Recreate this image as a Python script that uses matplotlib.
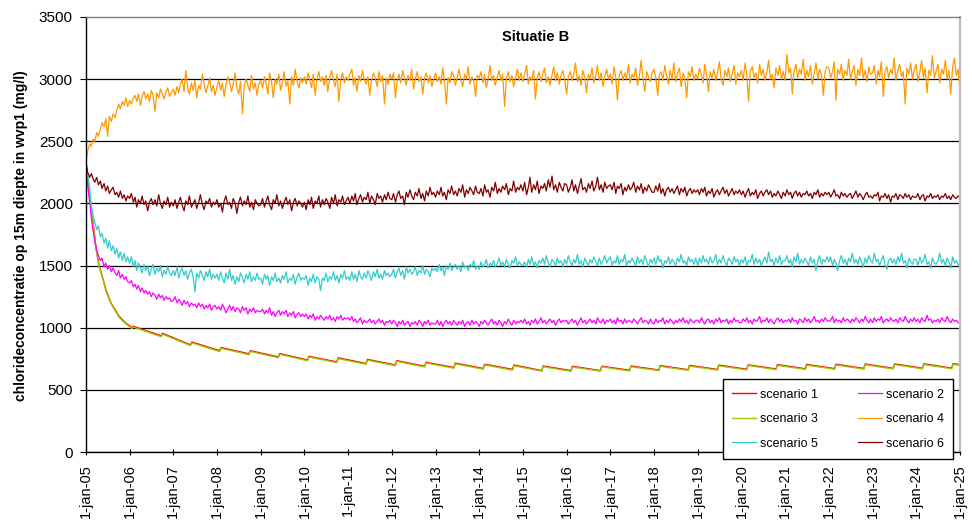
import matplotlib.pyplot as plt
import pandas as pd

plt.rcParams['font.family'] = ['Liberation Sans', 'DejaVu Sans']

START = pd.Timestamp('2005-01-01')
END = pd.Timestamp('2025-01-01')
HALF_MONTHS = pd.date_range(START, END, freq='SMS')
YEARS = list(range(2005, 2026))
TICK_LABELS = [f'1-jan-{y % 100:02d}' for y in YEARS]

# scenario 1 and 3: years after 1-jan-05, value before / after each step
SAW_T = [0.00, 0.08, 0.15, 0.23, 0.30, 0.39, 0.46, 0.57, 0.76, 0.90,
         1.05, 1.08, 1.72, 1.75, 2.39, 2.42, 3.06, 3.09, 3.73, 3.76,
         4.40, 4.43, 5.07, 5.10, 5.74, 5.77, 6.41, 6.44, 7.08, 7.11,
         7.75, 7.78, 8.42, 8.45, 9.09, 9.12, 9.76, 9.79, 10.43, 10.46,
         11.10, 11.13, 11.77, 11.80, 12.44, 12.47, 13.11, 13.14, 13.78, 13.81,
         14.45, 14.48, 15.12, 15.15, 15.79, 15.82, 16.46, 16.49, 17.13, 17.16,
         17.80, 17.83, 18.47, 18.50, 19.14, 19.17, 19.81, 19.84, 20.48, 20.51,
         21.15, 21.18, 21.82, 21.85, 22.49, 22.52, 23.16, 23.19, 23.83, 23.86,
         24.50, 24.53, 25.00]
SC1 = [2330, 2060, 1880, 1640, 1500, 1390, 1300, 1200, 1090, 1040,
       1000, 1012, 935, 955, 862, 885, 815, 840, 790, 815,
       765, 792, 740, 770, 725, 758, 712, 745, 700, 735,
       690, 722, 680, 715, 672, 706, 665, 700, 655, 692,
       655, 690, 655, 690, 658, 692, 660, 695, 662, 697,
       664, 699, 666, 701, 668, 703, 670, 705, 671, 706,
       672, 708, 673, 709, 674, 710, 675, 711, 676, 712,
       677, 713, 678, 714, 679, 715, 680, 716, 681, 717,
       682, 718, 702]
SC3 = [2330, 2050, 1870, 1630, 1490, 1385, 1290, 1195, 1082, 1035,
       993, 1005, 928, 948, 856, 878, 808, 834, 783, 809,
       758, 786, 734, 764, 719, 751, 706, 739, 694, 729,
       684, 716, 674, 709, 666, 700, 659, 694, 650, 686,
       649, 684, 650, 685, 652, 686, 655, 689, 657, 691,
       659, 693, 661, 696, 663, 697, 665, 699, 666, 700,
       667, 702, 668, 703, 669, 704, 670, 705, 671, 706,
       672, 707, 673, 708, 674, 709, 675, 710, 676, 711,
       677, 712, 698]

# half-monthly values (1st and 15th), one row per year, last value is 1-jan-25
SC2 = [2300, 2150, 2010, 1880, 1780, 1700, 1620, 1580, 1540, 1560, 1490, 1520,
       1470, 1500, 1450, 1480, 1440, 1420, 1460, 1400, 1430, 1390, 1410, 1370,
       1360, 1380, 1330, 1350, 1310, 1340, 1290, 1320, 1280, 1300, 1270, 1290,
       1250, 1280, 1260, 1230, 1270, 1240, 1260, 1220, 1250, 1230, 1240, 1210,
       1220, 1250, 1200, 1230, 1210, 1180, 1220, 1190, 1210, 1170, 1200, 1180,
       1190, 1160, 1200, 1170, 1190, 1150, 1180, 1160, 1190, 1140, 1170, 1180,
       1150, 1170, 1140, 1190, 1160, 1120, 1150, 1180, 1140, 1170, 1130, 1160,
       1150, 1120, 1170, 1140, 1160, 1110, 1150, 1130, 1160, 1120, 1140, 1130,
       1130, 1150, 1110, 1140, 1120, 1160, 1100, 1130, 1090, 1120, 1140, 1100,
       1130, 1110, 1140, 1090, 1120, 1100, 1130, 1080, 1110, 1120, 1090, 1110,
       1090, 1110, 1070, 1100, 1080, 1110, 1060, 1090, 1070, 1100, 1080, 1060,
       1090, 1070, 1100, 1060, 1080, 1050, 1090, 1070, 1100, 1060, 1080, 1070,
       1080, 1060, 1090, 1050, 1070, 1040, 1060, 1080, 1030, 1060, 1040, 1050,
       1070, 1040, 1060, 1030, 1050, 1070, 1040, 1060, 1020, 1050, 1040, 1060,
       1030, 1060, 1040, 1010, 1050, 1030, 1060, 1020, 1040, 1050, 1010, 1040,
       1030, 1050, 1020, 1060, 1040, 1010, 1050, 1030, 1060, 1020, 1040, 1030,
       1030, 1060, 1020, 1050, 1010, 1040, 1060, 1030, 1050, 1020, 1060, 1040,
       1020, 1050, 1030, 1060, 1010, 1040, 1050, 1020, 1060, 1030, 1050, 1040,
       1010, 1050, 1030, 1060, 1040, 1020, 1050, 1070, 1030, 1050, 1020, 1060,
       1040, 1010, 1050, 1030, 1070, 1040, 1020, 1060, 1030, 1050, 1040, 1060,
       1040, 1070, 1030, 1050, 1020, 1060, 1040, 1070, 1030, 1050, 1080, 1040,
       1060, 1030, 1050, 1070, 1040, 1060, 1020, 1050, 1070, 1040, 1060, 1050,
       1060, 1030, 1050, 1070, 1040, 1060, 1020, 1050, 1080, 1040, 1060, 1030,
       1050, 1070, 1040, 1060, 1030, 1080, 1050, 1040, 1070, 1030, 1060, 1050,
       1070, 1040, 1060, 1030, 1080, 1050, 1060, 1030, 1070, 1040, 1060, 1050,
       1040, 1070, 1050, 1030, 1060, 1080, 1040, 1060, 1050, 1030, 1070, 1040,
       1030, 1070, 1040, 1060, 1050, 1080, 1030, 1060, 1040, 1070, 1050, 1030,
       1060, 1040, 1070, 1050, 1080, 1040, 1060, 1030, 1070, 1050, 1040, 1060,
       1060, 1040, 1080, 1050, 1030, 1060, 1070, 1040, 1060, 1030, 1070, 1050,
       1080, 1040, 1060, 1050, 1070, 1030, 1060, 1040, 1080, 1050, 1060, 1040,
       1040, 1070, 1050, 1080, 1040, 1060, 1030, 1070, 1050, 1060, 1090, 1040,
       1060, 1050, 1080, 1040, 1070, 1050, 1030, 1060, 1080, 1050, 1070, 1040,
       1060, 1050, 1070, 1040, 1080, 1050, 1060, 1030, 1070, 1060, 1040, 1080,
       1050, 1070, 1040, 1060, 1090, 1050, 1060, 1040, 1070, 1050, 1080, 1060,
       1050, 1060, 1090, 1040, 1070, 1050, 1060, 1040, 1080, 1050, 1070, 1060,
       1040, 1070, 1050, 1080, 1060, 1040, 1070, 1050, 1090, 1060, 1040, 1070,
       1040, 1080, 1050, 1070, 1060, 1090, 1040, 1060, 1070, 1050, 1080, 1060,
       1050, 1070, 1040, 1080, 1060, 1050, 1090, 1060, 1040, 1070, 1050, 1080,
       1050, 1070, 1040, 1080, 1060, 1050, 1100, 1060, 1070, 1040, 1060, 1050,
       1070, 1040, 1080, 1060, 1050, 1090, 1060, 1040, 1070, 1050, 1060, 1040,
       1040]
SC4 = [2330, 2420, 2480, 2460, 2520, 2500, 2570, 2540, 2600, 2650, 2620, 2680,
       2540, 2700, 2660, 2720, 2690, 2750, 2800, 2760, 2820, 2790, 2850, 2780,
       2830, 2800, 2850, 2870, 2820, 2880, 2790, 2860, 2900, 2840, 2880, 2820,
       2910, 2870, 2740, 2890, 2850, 2920, 2880, 2840, 2900, 2930, 2860, 2890,
       2920, 2870, 2940, 2890, 2960, 3000, 2900, 3070, 2930, 2880, 2970, 2910,
       2990, 2850, 2950, 2920, 3040, 2960, 2890, 2940, 3010, 2900, 2950, 2870,
       2940, 2990, 2910, 2970, 2860, 2950, 3020, 2980, 2900, 2960, 3050, 2930,
       2880, 2980, 2720, 2940, 3000, 2950, 2900, 3030, 2920, 2970, 2870, 2960,
       2990, 2930, 3020, 2960, 2880, 3050, 2980, 2850, 3000, 2960, 3040, 2910,
       2970, 3060, 2940, 2990, 2800, 3020, 2950, 3080, 2980, 2930, 3010, 2970,
       3020, 2960, 3050, 2990, 2930, 3040, 2870, 3000, 3060, 2980, 3020, 2950,
       3030, 2900, 3010, 3070, 2990, 2940, 3040, 2820, 3000, 3050, 2970, 3020,
       2990, 3040, 3080, 2950, 3010, 2900, 3030, 2980, 3070, 3000, 2960, 3020,
       2870, 2990, 3050, 3010, 2940, 3060, 2980, 3030, 2800, 3010, 2960, 3040,
       3000, 3050, 2850, 2990, 3040, 2970, 3070, 3010, 2950, 3030, 2990, 3080,
       2920, 3000, 3060, 2980, 3020, 2880, 3010, 3050, 2970, 3030, 2940, 3000,
       3050, 2980, 3020, 2960, 3090, 3000, 2800, 3010, 2970, 3060, 3030, 2950,
       3010, 3080, 2990, 2940, 3040, 3000, 3100, 2960, 3020, 2990, 2860, 3030,
       3010, 3060, 2970, 3040, 2930, 3000, 3110, 2990, 3030, 2950, 3020, 3070,
       2990, 3040, 2780, 3000, 3060, 2980, 3030, 2940, 3010, 3080, 2990, 3050,
       2980, 3040, 3110, 2960, 3020, 2990, 3070, 2840, 3010, 3060, 2980, 3040,
       3090, 2970, 3020, 2950, 3030, 3100, 2990, 3050, 2960, 3030, 3070, 3000,
       2880, 3020, 3060, 2990, 3040, 3130, 2980, 3030, 2950, 3070, 3010, 2890,
       3040, 3000, 3090, 2970, 3030, 3110, 2990, 3050, 2940, 3020, 3080, 3000,
       3040, 2960, 3100, 3010, 2830, 3030, 3070, 2990, 3050, 3000, 3120, 2970,
       3040, 3010, 3090, 2950, 3030, 3150, 3000, 2900, 3060, 3020, 2980, 3050,
       3080, 3010, 2870, 3040, 3060, 2990, 3110, 3030, 2960, 3070, 3000, 3130,
       2980, 3040, 3090, 2940, 3050, 3010, 2850, 3060, 3020, 3100, 2990, 3040,
       3000, 3090, 3030, 2970, 3120, 3040, 2900, 3060, 3010, 3080, 2990, 3050,
       3140, 3000, 2950, 3070, 3020, 3090, 2980, 3040, 3110, 2960, 3050, 3020,
       3070, 2990, 3130, 3040, 2820, 3060, 3100, 3010, 3050, 2970, 3120, 3030,
       3080, 2990, 3060, 3150, 3000, 3040, 2930, 3090, 3030, 3110, 3000, 3060,
       2990, 3200, 3050, 3090, 2880, 3060, 3120, 3010, 3080, 3040, 3160, 2990,
       3070, 3020, 3110, 2960, 3050, 3130, 3000, 3080, 3030, 2870, 3060, 3100,
       3090, 3010, 3060, 3140, 2830, 3080, 3040, 3120, 2990, 3070, 3030, 3160,
       3000, 3060, 3110, 2950, 3080, 3030, 3170, 3010, 3070, 2980, 3100, 3040,
       3050, 3110, 2960, 3070, 3020, 3140, 2860, 3060, 3100, 3010, 3080, 3040,
       3170, 2990, 3070, 3120, 3020, 3060, 2800, 3090, 3040, 3130, 3000, 3070,
       3120, 2980, 3060, 3150, 3010, 3090, 2890, 3070, 3030, 3190, 3010, 3060,
       3120, 2970, 3080, 3040, 3150, 3000, 3070, 2880, 3100, 3170, 3030, 3080,
       2910]
SC5 = [2290, 2230, 2120, 1980, 1900, 1850, 1790, 1820, 1730, 1760, 1680, 1720,
       1640, 1700, 1620, 1660, 1590, 1640, 1560, 1610, 1540, 1600, 1530, 1570,
       1520, 1570, 1490, 1540, 1460, 1520, 1480, 1440, 1510, 1460, 1490, 1420,
       1470, 1510, 1430, 1480, 1450, 1500, 1410, 1460, 1430, 1490, 1440, 1420,
       1460, 1420, 1490, 1400, 1450, 1480, 1420, 1460, 1390, 1440, 1470, 1410,
       1290, 1440, 1400, 1460, 1420, 1380, 1450, 1410, 1470, 1390, 1430, 1400,
       1430, 1380, 1450, 1400, 1360, 1440, 1390, 1470, 1380, 1420, 1350, 1410,
       1370, 1440, 1400, 1360, 1430, 1390, 1450, 1370, 1410, 1380, 1440, 1390,
       1400, 1350, 1430, 1390, 1420, 1340, 1410, 1380, 1440, 1370, 1400, 1360,
       1420, 1390, 1450, 1360, 1400, 1380, 1430, 1350, 1410, 1440, 1380, 1400,
       1390, 1420, 1340, 1400, 1370, 1430, 1360, 1410, 1390, 1300, 1400, 1380,
       1440, 1370, 1410, 1390, 1450, 1380, 1420, 1360, 1430, 1400, 1460, 1390,
       1410, 1380, 1450, 1390, 1430, 1370, 1460, 1410, 1390, 1440, 1400, 1460,
       1420, 1380, 1450, 1410, 1470, 1400, 1430, 1390, 1460, 1420, 1440, 1410,
       1430, 1470, 1400, 1450, 1480, 1420, 1460, 1390, 1490, 1440, 1470, 1430,
       1450, 1490, 1420, 1460, 1440, 1500, 1430, 1470, 1450, 1410, 1480, 1460,
       1480, 1450, 1510, 1460, 1490, 1420, 1500, 1470, 1520, 1460, 1490, 1510,
       1470, 1500, 1450, 1530, 1480, 1500, 1460, 1510, 1490, 1540, 1470, 1500,
       1470, 1530, 1490, 1510, 1550, 1480, 1520, 1500, 1540, 1490, 1520, 1560,
       1500, 1530, 1490, 1550, 1510, 1480, 1540, 1520, 1570, 1500, 1530, 1510,
       1500, 1530, 1490, 1550, 1510, 1570, 1500, 1530, 1480, 1540, 1520, 1560,
       1510, 1580, 1520, 1490, 1550, 1530, 1500, 1560, 1520, 1540, 1490, 1550,
       1510, 1580, 1530, 1500, 1550, 1520, 1590, 1510, 1540, 1490, 1560, 1530,
       1500, 1550, 1520, 1570, 1530, 1500, 1560, 1510, 1540, 1580, 1520, 1550,
       1570, 1500, 1540, 1520, 1580, 1510, 1550, 1530, 1590, 1500, 1540, 1520,
       1560, 1530, 1500, 1570, 1520, 1550, 1510, 1580, 1530, 1490, 1550, 1520,
       1560, 1510, 1580, 1530, 1550, 1480, 1540, 1520, 1570, 1510, 1550, 1530,
       1500, 1560, 1530, 1590, 1520, 1540, 1500, 1570, 1530, 1550, 1510, 1560,
       1500, 1560, 1520, 1580, 1530, 1550, 1510, 1570, 1520, 1540, 1590, 1510,
       1550, 1520, 1580, 1530, 1500, 1560, 1540, 1510, 1570, 1530, 1550, 1500,
       1550, 1520, 1570, 1500, 1540, 1530, 1590, 1510, 1560, 1520, 1550, 1500,
       1540, 1570, 1520, 1610, 1530, 1550, 1500, 1560, 1520, 1580, 1510, 1540,
       1540, 1580, 1520, 1550, 1490, 1570, 1530, 1600, 1510, 1550, 1520, 1560,
       1530, 1500, 1570, 1520, 1550, 1460, 1540, 1580, 1510, 1550, 1530, 1570,
       1530, 1570, 1500, 1550, 1520, 1460, 1540, 1580, 1520, 1550, 1500, 1560,
       1530, 1600, 1520, 1550, 1510, 1570, 1530, 1490, 1560, 1520, 1580, 1540,
       1520, 1600, 1530, 1550, 1500, 1540, 1580, 1510, 1470, 1540, 1560, 1520,
       1550, 1510, 1570, 1530, 1600, 1520, 1540, 1480, 1560, 1530, 1510, 1550,
       1550, 1500, 1570, 1520, 1540, 1590, 1510, 1530, 1480, 1560, 1520, 1510,
       1540, 1600, 1520, 1550, 1500, 1560, 1530, 1480, 1570, 1520, 1540, 1510,
       1500]
SC6 = [2330, 2250, 2210, 2240, 2200, 2170, 2210, 2150, 2180, 2120, 2160, 2100,
       2140, 2080, 2110, 2130, 2070, 2090, 2050, 2100, 2040, 2070, 2020, 2060,
       2040, 2080, 2010, 2050, 1970, 2030, 2000, 2060, 1990, 2020, 1940, 2010,
       2040, 1990, 2030, 1980, 2070, 2000, 1960, 2020, 1990, 2050, 1970, 2010,
       1980, 2030, 1960, 2010, 2050, 1990, 1940, 2020, 1990, 2060, 1970, 2000,
       2030, 1960, 2010, 2070, 1990, 1950, 2020, 2000, 2040, 1970, 2010, 1990,
       2030, 1970, 2000, 1930, 2020, 2060, 1990, 2010, 1960, 2040, 2000, 1920,
       2010, 2050, 1980, 2020, 1990, 2060, 1970, 2010, 1950, 2030, 2000, 1980,
       1990, 2040, 1970, 2020, 2060, 1990, 1950, 2030, 2000, 2070, 1980, 2020,
       1960, 2010, 2050, 1990, 2030, 1940, 2010, 2040, 1980, 2020, 2000, 1970,
       2010, 1950, 2030, 1990, 2050, 1960, 2020, 2000, 2060, 1970, 2030, 1990,
       2040, 2010, 1960, 2050, 2000, 2070, 1980, 2030, 2010, 2060, 1990, 2020,
       2050, 2000, 2060, 2020, 2080, 1990, 2040, 2070, 2010, 2050, 2030, 2090,
       2000, 2060, 2030, 1990, 2080, 2040, 2060, 2010, 2070, 2030, 2090, 2040,
       2030, 2080, 2010, 2070, 2100, 2040, 2060, 1990, 2090, 2050, 2110, 2060,
       2030, 2090, 2060, 2120, 2040, 2080, 2020, 2100, 2060, 2130, 2070, 2090,
       2050, 2100, 2070, 2130, 2060, 2090, 2030, 2110, 2080, 2140, 2070, 2100,
       2060, 2120, 2090, 2150, 2050, 2110, 2080, 2130, 2100, 2070, 2140, 2090,
       2080, 2120, 2060, 2150, 2090, 2110, 2050, 2130, 2100, 2170, 2080, 2120,
       2090, 2140, 2110, 2160, 2070, 2120, 2100, 2180, 2090, 2130, 2110, 2150,
       2100, 2170, 2070, 2130, 2210, 2090, 2150, 2110, 2180, 2080, 2140, 2120,
       2160, 2100, 2190, 2130, 2220, 2110, 2150, 2090, 2170, 2130, 2100, 2160,
       2150, 2090, 2130, 2190, 2100, 2150, 2080, 2140, 2200, 2110, 2130, 2090,
       2160, 2120, 2180, 2100, 2140, 2210, 2110, 2150, 2090, 2170, 2120, 2140,
       2150, 2110, 2170, 2080, 2140, 2120, 2160, 2070, 2130, 2100, 2150, 2110,
       2130, 2170, 2090, 2140, 2110, 2160, 2080, 2130, 2100, 2150, 2120, 2090,
       2090, 2140, 2100, 2160, 2080, 2120, 2060, 2110, 2130, 2090, 2120, 2080,
       2110, 2140, 2070, 2120, 2090, 2130, 2060, 2100, 2120, 2080, 2110, 2090,
       2110, 2070, 2120, 2090, 2130, 2060, 2100, 2080, 2120, 2050, 2090, 2110,
       2070, 2100, 2130, 2080, 2110, 2060, 2090, 2120, 2070, 2100, 2080, 2110,
       2070, 2100, 2050, 2090, 2120, 2060, 2090, 2070, 2110, 2040, 2080, 2100,
       2060, 2090, 2110, 2070, 2100, 2050, 2080, 2060, 2100, 2070, 2040, 2090,
       2060, 2110, 2070, 2090, 2040, 2080, 2100, 2060, 2090, 2050, 2080, 2070,
       2100, 2060, 2080, 2040, 2090, 2070, 2110, 2050, 2080, 2060, 2090, 2070,
       2090, 2050, 2080, 2110, 2060, 2070, 2040, 2090, 2060, 2080, 2050, 2070,
       2080, 2040, 2070, 2100, 2050, 2080, 2060, 2030, 2070, 2090, 2050, 2060,
       2040, 2070, 2060, 2090, 2020, 2060, 2050, 2080, 2040, 2070, 2010, 2060,
       2050, 2080, 2030, 2070, 2060, 2040, 2080, 2050, 2070, 2030, 2060, 2050,
       2050, 2080, 2030, 2060, 2070, 2020, 2060, 2050, 2080, 2040, 2060, 2050,
       2070, 2030, 2060, 2050, 2080, 2040, 2060, 2030, 2070, 2050, 2040, 2060,
       2050]

COLORS = {
    'scenario 1': '#FF0000',
    'scenario 2': '#FF00FF',
    'scenario 3': '#99CC00',
    'scenario 4': '#FF9900',
    'scenario 5': '#33CCCC',
    'scenario 6': '#800000',
}


def years_to_dates(ts):
    return [START + pd.Timedelta(days=t * 365.25) for t in ts]


def main():
    fig = plt.figure(figsize=(9.72, 5.2), dpi=100)
    ax = fig.add_axes([86 / 972, 68 / 520, 874 / 972, 435 / 520])

    saw_dates = years_to_dates(SAW_T)
    lines = {}
    lines['scenario 1'], = ax.plot(saw_dates, SC1, color=COLORS['scenario 1'], lw=1.0)
    lines['scenario 3'], = ax.plot(saw_dates, SC3, color=COLORS['scenario 3'], lw=1.0)
    lines['scenario 2'], = ax.plot(HALF_MONTHS, SC2, color=COLORS['scenario 2'], lw=0.9)
    lines['scenario 5'], = ax.plot(HALF_MONTHS, SC5, color=COLORS['scenario 5'], lw=0.9)
    lines['scenario 6'], = ax.plot(HALF_MONTHS, SC6, color=COLORS['scenario 6'], lw=0.9)
    lines['scenario 4'], = ax.plot(HALF_MONTHS, SC4, color=COLORS['scenario 4'], lw=0.9)

    ax.set_ylim(0, 3500)
    ax.set_yticks(range(0, 3501, 500))
    ax.set_xlim(START, END)
    ax.set_xticks([pd.Timestamp(f'{y}-01-01') for y in YEARS])
    ax.set_xticklabels(TICK_LABELS, rotation=90)
    ax.tick_params(axis='y', direction='out', length=4.5, labelsize=11, pad=5)
    ax.tick_params(axis='x', direction='inout', length=5, labelsize=10.5, pad=6)

    ax.set_axisbelow(True)
    ax.grid(axis='y', color='black', lw=0.9)
    ax.get_ygridlines()[-1].set_visible(False)

    for side in ('left', 'bottom'):
        ax.spines[side].set_color('black')
        ax.spines[side].set_linewidth(1.0)
    ax.spines['top'].set_color('#808080')
    ax.spines['top'].set_linewidth(1.0)
    ax.spines['right'].set_color('#BBBBBB')
    ax.spines['right'].set_linewidth(1.6)

    ax.text(0.514, 0.954, 'Situatie B', transform=ax.transAxes, ha='center',
            va='center', fontsize=10.5, fontweight='bold')
    fig.text(21 / 972, 1 - 236 / 520, 'chlorideconcentratie op 15m diepte in wvp1 (mg/l)',
             rotation=90, ha='center', va='center', fontsize=10, fontweight='bold')

    order = ['scenario 1', 'scenario 3', 'scenario 5', 'scenario 2', 'scenario 4', 'scenario 6']
    leg = ax.legend([lines[k] for k in order], order, ncol=2, loc='lower left',
                    bbox_to_anchor=(723 / 972, 61 / 520, 230 / 972, 82 / 520),
                    bbox_transform=fig.transFigure, mode='expand', fontsize=9,
                    fancybox=False, edgecolor='black', framealpha=1,
                    handlelength=1.9, handletextpad=0.3, labelspacing=1.0,
                    borderaxespad=0, borderpad=0.75)
    leg.get_frame().set_linewidth(1.0)

    fig.savefig('out.png', dpi=100)


if __name__ == '__main__':
    main()
